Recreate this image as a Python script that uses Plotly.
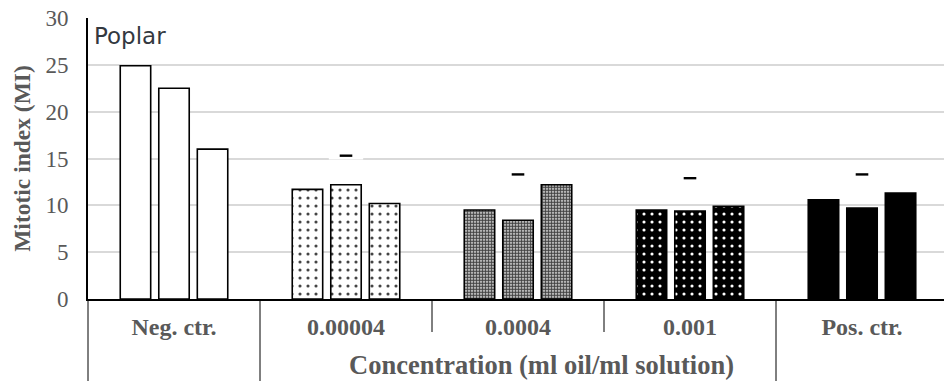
import plotly.graph_objects as go

# Mitotic index of onion root tips treated with poplar essential oil
categories = ["Neg. ctr.", "0.00004", "0.0004", "0.001", "Pos. ctr."]
rep1 = [24.9, 11.7, 9.5, 9.5, 10.6]
rep2 = [22.5, 12.2, 8.4, 9.4, 9.7]
rep3 = [16.0, 10.2, 12.2, 9.9, 11.3]
dash_values = [None, 15.3, 13.3, 12.9, 13.3]
y_ticks = [0, 5, 10, 15, 20, 25, 30]

# fill style per concentration group (base colour + dot overlay)
fill_color = ["white", "white", "white", "black", "black"]
pat_shape = ["", ".", ".", ".", ""]
pat_fg = ["black", "black", "black", "white", "black"]
pat_size = [8, 8, 3, 8, 8]
pat_solid = [0.3, 0.12, 0.7, 0.12, 0.3]

x = list(range(len(categories)))
x_min, x_max = -0.5, len(categories) - 0.5 - 4 / 172

SERIF = "Liberation Serif"
GREY = "#595959"

fig = go.Figure()
for vals in (rep1, rep2, rep3):
    fig.add_trace(go.Bar(
        x=x, y=vals,
        marker=dict(
            color=fill_color,
            line=dict(color="black", width=1.6),
            pattern=dict(shape=pat_shape, fgcolor=pat_fg, size=pat_size,
                         solidity=pat_solid, fillmode="overlay", fgopacity=1),
        ),
        showlegend=False, hoverinfo="skip",
    ))

# small dash markers above the middle bar of each treated group
dx = [x[i] for i, v in enumerate(dash_values) if v is not None]
dy = [v for v in dash_values if v is not None]
for xi, yi in zip(dx, dy):
    fig.add_shape(type="rect", xref="x", yref="y", layer="between",
                  x0=xi - 0.1, x1=xi + 0.1, y0=yi - 0.4, y1=yi + 0.4,
                  fillcolor="white", line=dict(width=0))
fig.add_trace(go.Scatter(
    x=dx, y=dy, mode="markers",
    marker=dict(symbol="line-ew", size=9, line=dict(color="black", width=2.4)),
    showlegend=False, hoverinfo="skip",
))

# group dividers below the category axis
def px(v):
    return (v - x_min) / (x_max - x_min)

plot_h = 381 - 18 - 82
long_end = -82 / plot_h
short_end = -33 / plot_h
for b, end in zip([-0.5, 0.5, 1.5, 2.5, 3.5],
                  [long_end, long_end, short_end, short_end, long_end]):
    fig.add_shape(type="line", xref="paper", yref="paper",
                  x0=px(b), x1=px(b), y0=0, y1=end,
                  line=dict(color="black", width=1))

fig.add_annotation(text="Concentration (ml oil/ml solution)",
                   xref="paper", yref="paper", x=(541 - 88) / 856, y=-(365 - 299) / plot_h,
                   xanchor="center", yanchor="middle", showarrow=False,
                   font=dict(family=SERIF, size=26.5, color=GREY, weight="bold"))

fig.add_annotation(text="Poplar", xref="paper", yref="paper",
                   x=(92 - 88) / 856, y=(299 - 36) / plot_h,
                   xanchor="left", yanchor="middle", showarrow=False,
                   font=dict(family="DejaVu Sans", size=23, color="#33383f"))

fig.update_layout(
    width=944, height=381,
    margin=dict(l=88, r=0, t=18, b=82),
    paper_bgcolor="white", plot_bgcolor="white",
    barmode="group", bargap=0.328, bargroupgap=0.21,
    xaxis=dict(range=[x_min, x_max], tickvals=x, ticktext=categories,
               showgrid=False, zeroline=False, showline=True,
               linecolor="black", linewidth=2, ticks="",
               ticklabelstandoff=5,
               tickfont=dict(family=SERIF, size=24, color=GREY, weight="bold")),
    yaxis=dict(range=[0, 30], tickvals=y_ticks, showgrid=True,
               gridcolor="#d9d9d9", gridwidth=1.5, zeroline=False,
               showline=True, linecolor="black", linewidth=2, ticks="",
               ticklabelstandoff=13,
               tickfont=dict(family=SERIF, size=23, color=GREY),
               title=dict(text="Mitotic index (MI)", standoff=8,
                          font=dict(family=SERIF, size=23.5, color=GREY, weight="bold"))),
)

fig.write_html("out.html")
